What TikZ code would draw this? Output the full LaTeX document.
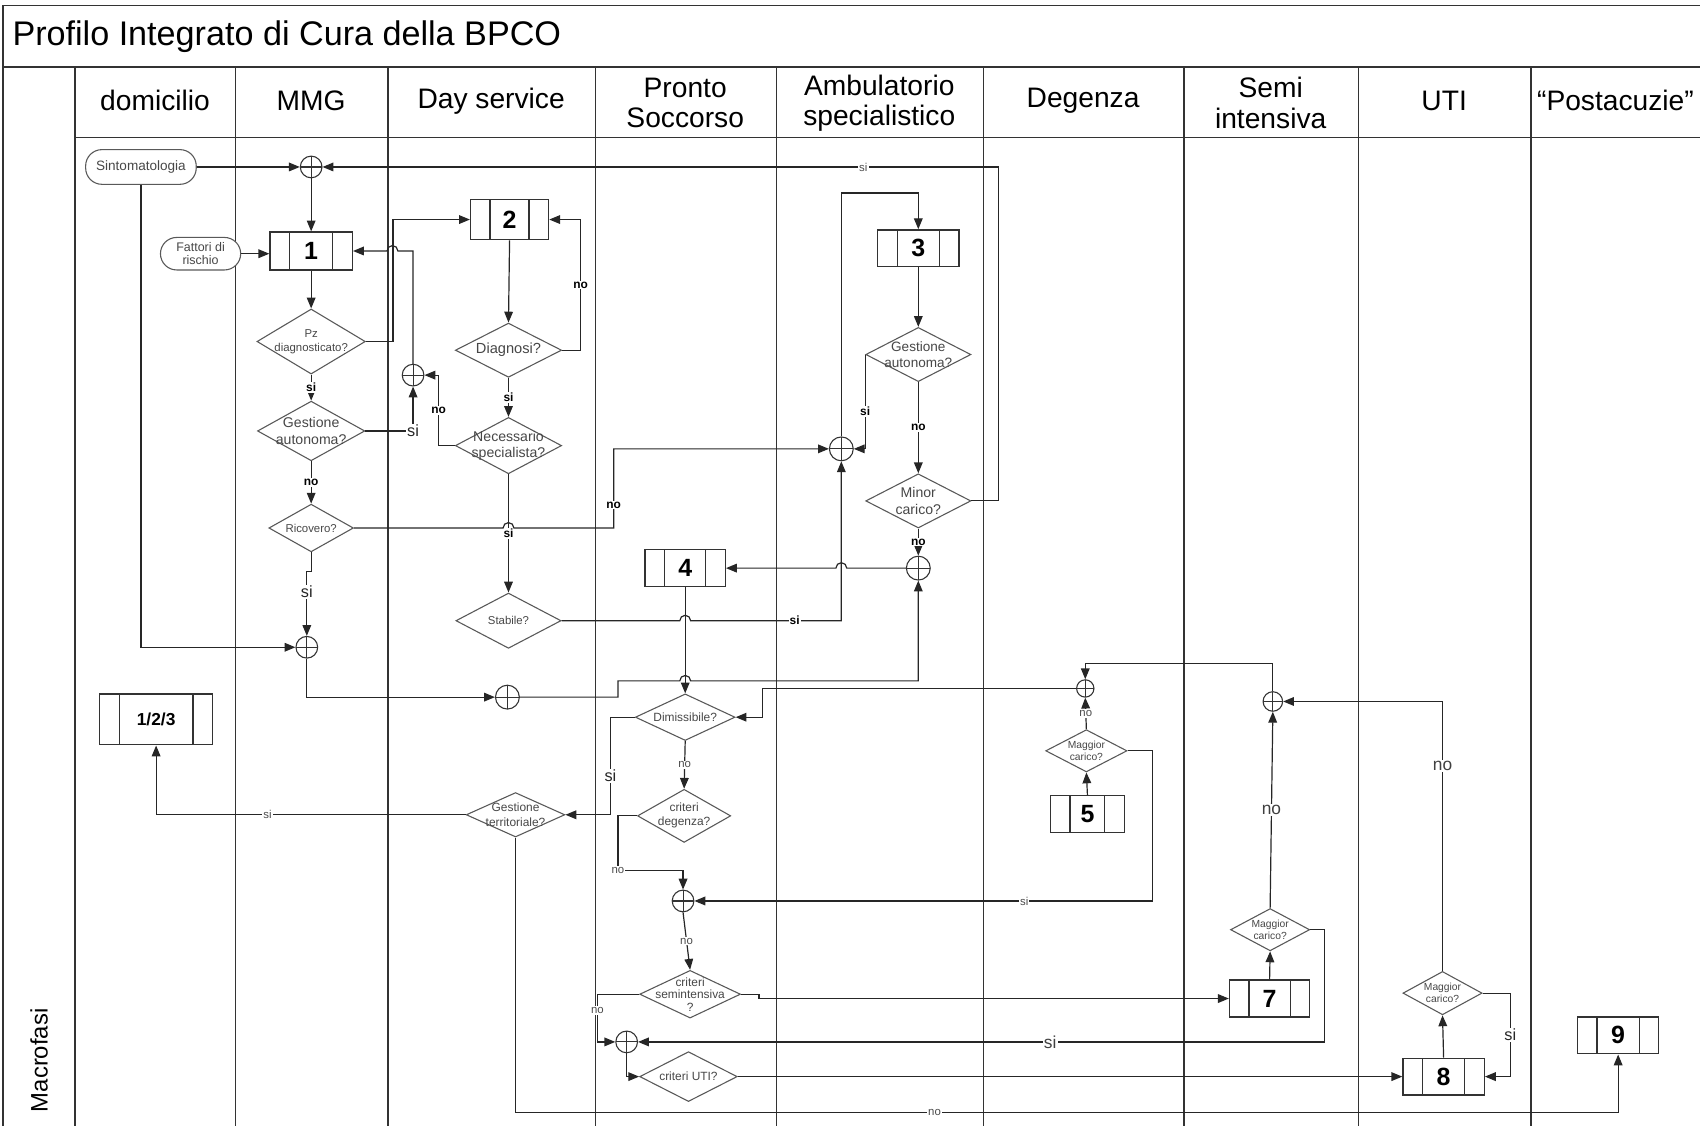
\documentclass[tikz,border=0pt]{standalone}
\usepackage{fontspec}
\setmainfont{Liberation Sans}
\usetikzlibrary{shapes.geometric,arrows.meta}
\begin{document}
\begin{tikzpicture}[x=1pt,y=-1pt,
  frame/.style={line width=1.6pt, draw=black!80},
  col/.style={line width=1.3pt, draw=black!80},
  con/.style={line width=1.1pt, draw=black!85},
  arr/.style={con, -{Triangle[length=10pt,width=8pt]}},
  dmd/.style={diamond, draw=black!65, line width=1pt, inner sep=0pt, fill=white},
  dtext/.style={text=black!72, align=center, inner sep=0pt},
  pbox/.style={draw=black!80, line width=1.2pt, fill=white, inner sep=0pt,
    font=\fontsize{23}{23}\selectfont\bfseries,
    path picture={\draw[line width=1.2pt, black!80]
      ([xshift=18pt]path picture bounding box.north west) -- ([xshift=18pt]path picture bounding box.south west)
      ([xshift=-18pt]path picture bounding box.north east) -- ([xshift=-18pt]path picture bounding box.south east);}},
  junc/.style={circle, draw=black!80, line width=1pt, fill=white, inner sep=0pt,
    path picture={\draw[line width=1pt, black!80]
      (path picture bounding box.north) -- (path picture bounding box.south)
      (path picture bounding box.west) -- (path picture bounding box.east);}},
  pill/.style={draw=black!65, line width=1pt, fill=white, rounded corners=15pt, inner sep=0pt, text=black!72, align=center},
  hdr/.style={align=center, font=\fontsize{26}{28}\selectfont},
  lbb/.style={fill=white, inner sep=1pt, font=\fontsize{11}{12}\selectfont\bfseries},
  lbs/.style={fill=white, inner sep=1pt, text=black!70, font=\fontsize{10.5}{12}\selectfont},
  lbm/.style={fill=white, inner sep=1pt, text=black!85, font=\fontsize{15}{16}\selectfont},
  lbx/.style={fill=white, inner sep=1pt, text=black!75, font=\fontsize{16}{17}\selectfont}
]
\useasboundingbox (0,0) rectangle (1568,1039);
% ---------- frame and swimlanes ----------
\draw[frame] (1568,5) -- (3,5) -- (3,1039);
\draw[frame] (3,62) -- (1568,62);
\draw[col] (69,127) -- (1568,127);
\foreach \x in {69,217,358,549,716,907,1092,1253,1412} \draw[col] (\x,62) -- (\x,1039);
\node[anchor=west, font=\fontsize{31.5}{33}\selectfont] (title) at (8,34) {Profilo Integrato di Cura della BPCO};
\node[hdr] (hdom) at (143,93) {domicilio};
\node[hdr] (hmmg) at (287,93) {MMG};
\node[hdr] (hday) at (453,93) {Day service};
\node[hdr] (hps) at (632,95) {Pronto\\Soccorso};
\node[hdr] (hamb) at (811,95) {Ambulatorio\\specialistico};
\node[hdr] (hdeg) at (999,93) {Degenza};
\node[hdr] (hsemi) at (1172,95) {Semi\\intensiva};
\node[hdr] (huti) at (1332,93) {UTI};
\node[hdr] (hpost) at (1490,93) {“Postacuzie”};
\node[rotate=90, font=\fontsize{22}{24}\selectfont] (macro) at (36,978) {Macrofasi};
% ---------- nodes ----------
\node[pill, minimum width=102pt, minimum height=32pt, font=\fontsize{12.5}{14}\selectfont] (sint) at (130,154) {Sintomatologia};
\node[pill, minimum width=74pt, minimum height=30pt, font=\fontsize{11.5}{12.5}\selectfont] (fatt) at (185,234) {Fattori di\\rischio};
\node[junc, minimum size=20pt] (j1) at (287,154) {};
\node[junc, minimum size=20pt] (j2) at (283,597) {};
\node[junc, minimum size=22pt] (j3) at (468,643) {};
\node[junc, minimum size=20pt] (j4) at (381,346) {};
\node[junc, minimum size=22pt] (j5) at (776,414) {};
\node[junc, minimum size=22pt] (j6) at (847,524) {};
\node[junc, minimum size=16pt] (j8) at (1001,635) {};
\node[junc, minimum size=20pt] (j9) at (630,831) {};
\node[junc, minimum size=20pt] (j10) at (578,961) {};
\node[junc, minimum size=18pt] (j11) at (1174,647) {};
\node[pbox, minimum width=76pt, minimum height=35pt] (b1) at (287,231.5) {1};
\node[pbox, minimum width=72pt, minimum height=37pt] (b2) at (470,202.5) {2};
\node[pbox, minimum width=75pt, minimum height=34pt] (b3) at (847,229) {3};
\node[pbox, minimum width=74pt, minimum height=34pt] (b4) at (632,524) {4};
\node[pbox, minimum width=68pt, minimum height=34pt] (b5) at (1003,751) {5};
\node[pbox, minimum width=74pt, minimum height=34pt] (b7) at (1171,921) {7};
\node[pbox, minimum width=75pt, minimum height=34pt] (b8) at (1331.5,993) {8};
\node[pbox, minimum width=75pt, minimum height=34pt] (b9) at (1492.5,955) {9};
\node[pbox, minimum width=104pt, minimum height=47pt, font=\fontsize{16}{16}\selectfont\bfseries] (b123) at (144,663.5) {1/2/3};
\node[dmd, minimum width=100pt, minimum height=60pt, label={[dtext, font=\fontsize{10.5}{12.5}\selectfont]center:{Pz\\diagnosticato?}}] (pz) at (287,315) {};
\node[dmd, minimum width=99pt, minimum height=55pt, label={[dtext, font=\fontsize{13}{15}\selectfont]center:{Gestione\\autonoma?}}] (ga1) at (287,397.5) {};
\node[dmd, minimum width=78pt, minimum height=44pt, label={[dtext, font=\fontsize{10.5}{12}\selectfont]center:{Ricovero?}}] (ric) at (287,487) {};
\node[dmd, minimum width=98pt, minimum height=50pt, label={[dtext, font=\fontsize{13.5}{15}\selectfont]center:{Diagnosi?}}] (diag) at (469,323) {};
\node[dmd, minimum width=98pt, minimum height=52pt, label={[dtext, font=\fontsize{13}{15}\selectfont]center:{Necessario\\specialista?}}] (nec) at (469,411) {};
\node[dmd, minimum width=97pt, minimum height=51pt, label={[dtext, font=\fontsize{10.5}{12}\selectfont]center:{Stabile?}}] (stab) at (469,572.5) {};
\node[dmd, minimum width=97pt, minimum height=50pt, label={[dtext, font=\fontsize{12.5}{14.5}\selectfont]center:{Gestione\\autonoma?}}] (ga2) at (847,327) {};
\node[dmd, minimum width=97pt, minimum height=50pt, label={[dtext, font=\fontsize{13}{15}\selectfont]center:{Minor\\carico?}}] (minor) at (847,462) {};
\node[dmd, minimum width=92pt, minimum height=43pt, label={[dtext, font=\fontsize{11}{12}\selectfont]center:{Dimissibile?}}] (dim) at (632,661.5) {};
\node[dmd, minimum width=91pt, minimum height=41pt, label={[dtext, font=\fontsize{11}{13}\selectfont]center:{Gestione\\territoriale?}}] (gt) at (475.5,751.5) {};
\node[dmd, minimum width=86pt, minimum height=49pt, label={[dtext, font=\fontsize{11}{13}\selectfont]center:{criteri\\degenza?}}] (cdeg) at (631,752.5) {};
\node[dmd, minimum width=93pt, minimum height=44pt, label={[dtext, font=\fontsize{11}{11.5}\selectfont]center:{criteri\\semintensiva\\?}}] (csem) at (636.5,917) {};
\node[dmd, minimum width=90pt, minimum height=46pt, label={[dtext, font=\fontsize{11}{12}\selectfont]center:{criteri UTI?}}] (cuti) at (635,993) {};
\node[dmd, minimum width=75pt, minimum height=39pt, label={[dtext, font=\fontsize{9.5}{11}\selectfont]center:{Maggior\\carico?}}] (mag5) at (1002,692.5) {};
\node[dmd, minimum width=73pt, minimum height=39pt, label={[dtext, font=\fontsize{9.5}{11}\selectfont]center:{Maggior\\carico?}}] (mag7) at (1171.5,857.5) {};
\node[dmd, minimum width=73pt, minimum height=40pt, label={[dtext, font=\fontsize{9.5}{11}\selectfont]center:{Maggior\\carico?}}] (mag8) at (1330.5,916) {};
% ---------- connectors ----------
\draw[arr] (sint.east) -- (j1.west);
\draw[arr] (j1.south) -- (b1.north);
\draw[arr] (fatt.east) -- (fatt.east -| b1.west);
\draw[arr] (b1.south) -- (pz.north);
\draw[arr] (pz.south) -- node[lbb]{si} (ga1.north);
\draw[arr] (ga1.south) -- node[lbb]{no} (ric.north);
\draw[arr] (ric.south) -- (287,527) -- (283,527) -- node[lbm,pos=0.32]{si} (j2.north);
\draw[arr] (sint.south) |- (j2.west);
\draw[arr] (j2.south) |- (j3.west);
\draw[arr] (pz.east) -- ++(25,0) |- (b2.west);
\draw[arr] (ga1.east) -| node[lbm,pos=0.5]{si} (j4.south);
\draw[arr] (nec.west) -- ++(-15,0) |- node[lbb,pos=0.25]{no} (j4.east);
\draw[arr] (j4.north) |- (367,231.5) arc[start angle=0,end angle=180,radius=5pt] -- (b1.east);
\draw[arr] (b2.south) -- (diag.north);
\draw[arr] (diag.east) -- ++(17,0) |- node[lbb,pos=0.25]{no} (b2.east);
\draw[arr] (diag.south) -- node[lbb]{si} (nec.north);
\draw[arr] (nec.south) -- node[lbb,pos=0.5]{si} (stab.north);
\draw[arr] (ric.east) -- (464,487) arc[start angle=180,end angle=0,radius=5pt] -- (566,487) -- node[lbb,pos=0.29]{no} (566,414) -- (j5.west);
\draw[arr] (stab.east) -- (627,572.5) arc[start angle=180,end angle=0,radius=5pt] -- node[lbb,pos=0.69]{si} (776,572.5) -- (j5.south);
\draw[arr] (ga2.west) |- node[lbb,pos=0.3]{si} (j5.east);
\draw[arr] (j5.north) -- (776,178) -| (b3.north);
\draw[arr] (b3.south) -- (ga2.north);
\draw[arr] (ga2.south) -- node[lbb]{no} (minor.north);
\draw[arr] (minor.east) -- ++(25,0) |- node[lbs,pos=0.6]{si} (j1.east);
\draw[arr] (minor.south) -- node[lbb]{no} (j6.north);
\draw[arr] (j6.west) -- (781,524) arc[start angle=0,end angle=180,radius=5pt] -- (b4.east);
\draw[arr] (j3.east) -- (570,643) -- (570,628) -- (627,628) arc[start angle=180,end angle=0,radius=5pt] -- (847,628) -- (j6.south);
\draw[arr] (b4.south) -- (dim.north);
\draw[arr] (j8.west) -- (703,635) -- (703,661.5) -- (dim.east);
\draw[arr] (dim.west) -- (563,661.5) |- node[lbm,pos=0.3]{si} (gt.east);
\draw[arr] (dim.south) -- node[lbs]{no} (cdeg.north);
\draw[arr] (gt.west) -| node[lbs,pos=0.32]{si} (b123.south);
\draw[arr] (gt.south) -- (475.5,1026) -| node[lbs,pos=0.19]{no} (b9.south);
\draw[arr] (cdeg.west) -- (570,752.5) -- (570,803) node[lbs]{no} -| (j9.north);
\draw[arr] (mag5.east) -- (1063,692.5) |- node[lbs,pos=0.64]{si} (j9.east);
\draw[arr] (j9.south) -- node[lbs]{no} (csem.north);
\draw[arr] (csem.west) -- (551,917) -- node[lbs,pos=0.34]{no} (551,961) -- (j10.west);
\draw[arr] (csem.east) -- (700,917) -- (700,921) -- (b7.west);
\draw[arr] (b5.north) -- (mag5.south);
\draw[arr] (mag5.north) -- node[lbs]{no} (j8.south);
\draw[arr] (j11.north) -- (1174,612) -| (j8.north);
\draw[arr] (b7.north) -- (mag7.south);
\draw[arr] (mag7.north) -- node[lbx,pos=0.5]{no} (j11.south);
\draw[arr] (mag7.east) -- (1222,857.5) |- node[lbx,pos=0.70]{si} (j10.east);
\draw[arr] (j10.south) |- (cuti.west);
\draw[arr] (cuti.east) -- (b8.west);
\draw[arr] (b8.north) -- (mag8.south);
\draw[arr] (mag8.east) -- (1393,916) |- node[lbm,pos=0.25]{si} (b8.east);
\draw[arr] (mag8.north) |- node[lbx,pos=0.38]{no} (j11.east);
\end{tikzpicture}
\end{document}
